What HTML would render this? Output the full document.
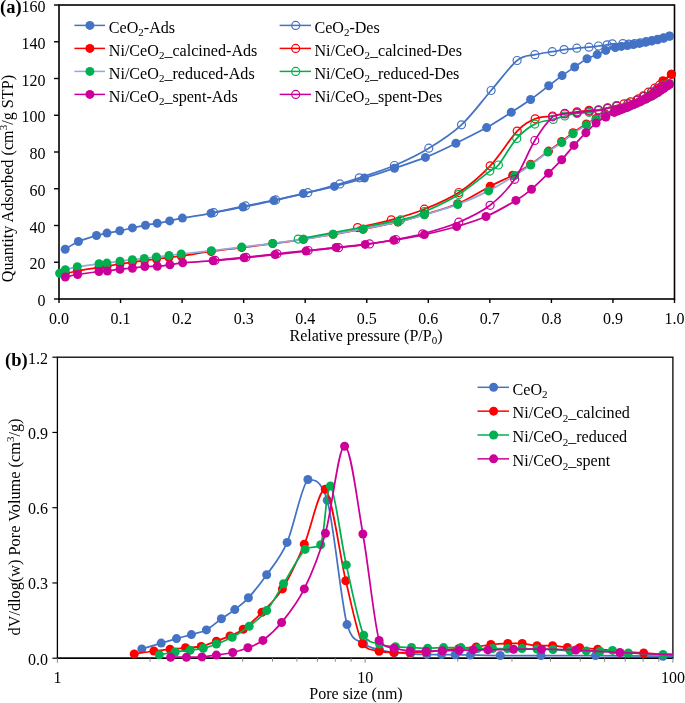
<!DOCTYPE html>
<html><head><meta charset="utf-8"><title>Isotherms and pore size distribution</title>
<style>html,body{margin:0;padding:0;background:#fff;width:685px;height:703px;overflow:hidden;font-family:"Liberation Serif",serif;}svg{display:block;will-change:transform;}</style>
</head><body>
<svg width="685" height="703" viewBox="0 0 685 703">
<defs><clipPath id="ca"><rect x="59.0" y="5.0" width="615.5" height="294.0"/></clipPath>
<clipPath id="cb"><rect x="57.4" y="357.2" width="615.5" height="301.00000000000006"/></clipPath></defs>
<rect width="685" height="703" fill="#fff"/>
<rect x="59.0" y="5.0" width="615.5" height="294.0" fill="none" stroke="#000" stroke-width="1.6"/>
<line x1="54.0" y1="299.00" x2="59.0" y2="299.00" stroke="#000" stroke-width="1.4"/>
<text x="45.5" y="306.00" font-family="Liberation Serif, serif" font-size="16" text-anchor="end">0</text>
<line x1="54.0" y1="262.25" x2="59.0" y2="262.25" stroke="#000" stroke-width="1.4"/>
<text x="45.5" y="269.25" font-family="Liberation Serif, serif" font-size="16" text-anchor="end">20</text>
<line x1="54.0" y1="225.50" x2="59.0" y2="225.50" stroke="#000" stroke-width="1.4"/>
<text x="45.5" y="232.50" font-family="Liberation Serif, serif" font-size="16" text-anchor="end">40</text>
<line x1="54.0" y1="188.75" x2="59.0" y2="188.75" stroke="#000" stroke-width="1.4"/>
<text x="45.5" y="195.75" font-family="Liberation Serif, serif" font-size="16" text-anchor="end">60</text>
<line x1="54.0" y1="152.00" x2="59.0" y2="152.00" stroke="#000" stroke-width="1.4"/>
<text x="45.5" y="159.00" font-family="Liberation Serif, serif" font-size="16" text-anchor="end">80</text>
<line x1="54.0" y1="115.25" x2="59.0" y2="115.25" stroke="#000" stroke-width="1.4"/>
<text x="45.5" y="122.25" font-family="Liberation Serif, serif" font-size="16" text-anchor="end">100</text>
<line x1="54.0" y1="78.50" x2="59.0" y2="78.50" stroke="#000" stroke-width="1.4"/>
<text x="45.5" y="85.50" font-family="Liberation Serif, serif" font-size="16" text-anchor="end">120</text>
<line x1="54.0" y1="41.75" x2="59.0" y2="41.75" stroke="#000" stroke-width="1.4"/>
<text x="45.5" y="48.75" font-family="Liberation Serif, serif" font-size="16" text-anchor="end">140</text>
<line x1="54.0" y1="5.00" x2="59.0" y2="5.00" stroke="#000" stroke-width="1.4"/>
<text x="45.5" y="12.00" font-family="Liberation Serif, serif" font-size="16" text-anchor="end">160</text>
<line x1="59.00" y1="299.0" x2="59.00" y2="303.0" stroke="#000" stroke-width="1.4"/>
<text x="59.00" y="324" font-family="Liberation Serif, serif" font-size="16" text-anchor="middle">0.0</text>
<line x1="120.55" y1="299.0" x2="120.55" y2="303.0" stroke="#000" stroke-width="1.4"/>
<text x="120.55" y="324" font-family="Liberation Serif, serif" font-size="16" text-anchor="middle">0.1</text>
<line x1="182.10" y1="299.0" x2="182.10" y2="303.0" stroke="#000" stroke-width="1.4"/>
<text x="182.10" y="324" font-family="Liberation Serif, serif" font-size="16" text-anchor="middle">0.2</text>
<line x1="243.65" y1="299.0" x2="243.65" y2="303.0" stroke="#000" stroke-width="1.4"/>
<text x="243.65" y="324" font-family="Liberation Serif, serif" font-size="16" text-anchor="middle">0.3</text>
<line x1="305.20" y1="299.0" x2="305.20" y2="303.0" stroke="#000" stroke-width="1.4"/>
<text x="305.20" y="324" font-family="Liberation Serif, serif" font-size="16" text-anchor="middle">0.4</text>
<line x1="366.75" y1="299.0" x2="366.75" y2="303.0" stroke="#000" stroke-width="1.4"/>
<text x="366.75" y="324" font-family="Liberation Serif, serif" font-size="16" text-anchor="middle">0.5</text>
<line x1="428.30" y1="299.0" x2="428.30" y2="303.0" stroke="#000" stroke-width="1.4"/>
<text x="428.30" y="324" font-family="Liberation Serif, serif" font-size="16" text-anchor="middle">0.6</text>
<line x1="489.85" y1="299.0" x2="489.85" y2="303.0" stroke="#000" stroke-width="1.4"/>
<text x="489.85" y="324" font-family="Liberation Serif, serif" font-size="16" text-anchor="middle">0.7</text>
<line x1="551.40" y1="299.0" x2="551.40" y2="303.0" stroke="#000" stroke-width="1.4"/>
<text x="551.40" y="324" font-family="Liberation Serif, serif" font-size="16" text-anchor="middle">0.8</text>
<line x1="612.95" y1="299.0" x2="612.95" y2="303.0" stroke="#000" stroke-width="1.4"/>
<text x="612.95" y="324" font-family="Liberation Serif, serif" font-size="16" text-anchor="middle">0.9</text>
<line x1="674.50" y1="299.0" x2="674.50" y2="303.0" stroke="#000" stroke-width="1.4"/>
<text x="674.50" y="324" font-family="Liberation Serif, serif" font-size="16" text-anchor="middle">1.0</text>
<path d="M65.20,249.30 C67.40,248.00 73.18,243.80 78.40,241.50 C83.62,239.20 91.73,236.90 96.50,235.50 C101.27,234.10 103.12,233.88 107.00,233.10 C110.88,232.32 115.57,231.67 119.80,230.80 C124.03,229.93 128.12,228.82 132.40,227.90 C136.68,226.98 141.37,226.07 145.50,225.30 C149.63,224.53 153.17,224.03 157.20,223.30 C161.23,222.57 165.50,221.77 169.70,220.90 C173.90,220.03 175.52,219.37 182.40,218.10 C189.28,216.83 200.90,215.15 211.00,213.30 C221.10,211.45 232.53,209.12 243.00,207.00 C253.47,204.88 263.75,202.83 273.80,200.60 C283.85,198.37 293.20,195.97 303.30,193.60 C313.40,191.23 324.22,188.98 334.40,186.40 C344.58,183.82 354.38,181.13 364.40,178.10 C374.42,175.07 384.33,171.65 394.50,168.20 C404.67,164.75 415.17,161.55 425.40,157.40 C435.63,153.25 445.70,148.27 455.90,143.30 C466.10,138.33 477.37,132.77 486.60,127.60 C495.83,122.43 503.97,116.98 511.30,112.30 C518.63,107.62 524.37,103.92 530.60,99.50 C536.83,95.08 543.45,89.78 548.70,85.80 C553.95,81.82 557.77,78.73 562.10,75.60 C566.43,72.47 570.55,69.80 574.70,67.00 C578.85,64.20 583.25,60.87 587.00,58.80 C590.75,56.73 594.07,56.00 597.20,54.60 C600.33,53.20 602.78,51.57 605.80,50.40 C608.82,49.23 612.71,48.26 615.30,47.60 C617.89,46.94 619.31,46.78 621.32,46.43 C623.33,46.07 625.34,45.78 627.34,45.46 C629.35,45.14 631.36,44.84 633.37,44.50 C635.37,44.16 637.38,43.80 639.39,43.42 C641.40,43.04 643.40,42.61 645.41,42.22 C647.42,41.84 649.43,41.51 651.43,41.11 C653.44,40.71 655.45,40.30 657.46,39.82 C659.46,39.35 661.47,38.85 663.48,38.24 C665.49,37.64 668.50,36.54 669.50,36.20" fill="none" stroke="#4472C4" stroke-width="1.75" clip-path="url(#ca)"/>
<circle cx="65.20" cy="249.30" r="4.5" fill="#4472C4"/>
<circle cx="78.40" cy="241.50" r="4.5" fill="#4472C4"/>
<circle cx="96.50" cy="235.50" r="4.5" fill="#4472C4"/>
<circle cx="107.00" cy="233.10" r="4.5" fill="#4472C4"/>
<circle cx="119.80" cy="230.80" r="4.5" fill="#4472C4"/>
<circle cx="132.40" cy="227.90" r="4.5" fill="#4472C4"/>
<circle cx="145.50" cy="225.30" r="4.5" fill="#4472C4"/>
<circle cx="157.20" cy="223.30" r="4.5" fill="#4472C4"/>
<circle cx="169.70" cy="220.90" r="4.5" fill="#4472C4"/>
<circle cx="182.40" cy="218.10" r="4.5" fill="#4472C4"/>
<circle cx="211.00" cy="213.30" r="4.5" fill="#4472C4"/>
<circle cx="243.00" cy="207.00" r="4.5" fill="#4472C4"/>
<circle cx="273.80" cy="200.60" r="4.5" fill="#4472C4"/>
<circle cx="303.30" cy="193.60" r="4.5" fill="#4472C4"/>
<circle cx="334.40" cy="186.40" r="4.5" fill="#4472C4"/>
<circle cx="364.40" cy="178.10" r="4.5" fill="#4472C4"/>
<circle cx="394.50" cy="168.20" r="4.5" fill="#4472C4"/>
<circle cx="425.40" cy="157.40" r="4.5" fill="#4472C4"/>
<circle cx="455.90" cy="143.30" r="4.5" fill="#4472C4"/>
<circle cx="486.60" cy="127.60" r="4.5" fill="#4472C4"/>
<circle cx="511.30" cy="112.30" r="4.5" fill="#4472C4"/>
<circle cx="530.60" cy="99.50" r="4.5" fill="#4472C4"/>
<circle cx="548.70" cy="85.80" r="4.5" fill="#4472C4"/>
<circle cx="562.10" cy="75.60" r="4.5" fill="#4472C4"/>
<circle cx="574.70" cy="67.00" r="4.5" fill="#4472C4"/>
<circle cx="587.00" cy="58.80" r="4.5" fill="#4472C4"/>
<circle cx="597.20" cy="54.60" r="4.5" fill="#4472C4"/>
<circle cx="605.80" cy="50.40" r="4.5" fill="#4472C4"/>
<circle cx="615.30" cy="47.60" r="4.5" fill="#4472C4"/>
<circle cx="621.32" cy="46.43" r="4.5" fill="#4472C4"/>
<circle cx="627.34" cy="45.46" r="4.5" fill="#4472C4"/>
<circle cx="633.37" cy="44.50" r="4.5" fill="#4472C4"/>
<circle cx="639.39" cy="43.42" r="4.5" fill="#4472C4"/>
<circle cx="645.41" cy="42.22" r="4.5" fill="#4472C4"/>
<circle cx="651.43" cy="41.11" r="4.5" fill="#4472C4"/>
<circle cx="657.46" cy="39.82" r="4.5" fill="#4472C4"/>
<circle cx="663.48" cy="38.24" r="4.5" fill="#4472C4"/>
<circle cx="669.50" cy="36.20" r="4.5" fill="#4472C4"/>
<path d="M669.50,36.00 C668.53,36.30 665.62,37.23 663.67,37.79 C661.73,38.35 659.79,38.87 657.85,39.34 C655.91,39.81 653.97,40.21 652.02,40.59 C650.08,40.98 648.14,41.32 646.20,41.68 C644.26,42.04 642.32,42.43 640.38,42.76 C638.43,43.09 636.49,43.44 634.55,43.66 C632.61,43.88 630.67,44.06 628.73,44.06 C626.78,44.05 625.64,43.64 622.90,43.60 C620.16,43.60 614.93,43.60 612.30,43.80 C609.67,44.00 609.40,44.43 607.10,44.80 C604.80,45.17 601.52,45.60 598.50,46.00 C595.48,46.40 592.62,46.83 589.00,47.20 C585.38,47.57 580.95,47.80 576.80,48.20 C572.65,48.60 568.18,49.02 564.10,49.60 C560.02,50.18 557.17,50.85 552.30,51.70 C547.43,52.55 540.77,53.23 534.90,54.70 C529.03,56.17 524.40,54.70 517.10,60.50 C509.80,66.47 500.37,79.78 491.10,90.50 C481.83,101.22 471.88,115.18 461.50,124.80 C451.12,134.42 439.98,141.42 428.80,148.20 C417.62,154.98 405.98,160.57 394.40,165.50 C382.82,170.43 368.38,174.73 359.30,177.80 C350.22,180.87 348.48,181.42 339.90,183.90 C331.32,186.38 318.50,190.03 307.80,192.70 C297.10,195.37 286.08,197.70 275.70,199.90 C265.32,202.10 255.83,203.78 245.50,205.90 C235.17,208.02 219.00,211.48 213.70,212.60" fill="none" stroke="#4472C4" stroke-width="1.75" clip-path="url(#ca)"/>
<circle cx="669.50" cy="36.00" r="4.0" fill="none" stroke="#4472C4" stroke-width="1.2"/>
<circle cx="663.67" cy="37.79" r="4.0" fill="none" stroke="#4472C4" stroke-width="1.2"/>
<circle cx="657.85" cy="39.34" r="4.0" fill="none" stroke="#4472C4" stroke-width="1.2"/>
<circle cx="652.02" cy="40.59" r="4.0" fill="none" stroke="#4472C4" stroke-width="1.2"/>
<circle cx="646.20" cy="41.68" r="4.0" fill="none" stroke="#4472C4" stroke-width="1.2"/>
<circle cx="640.38" cy="42.76" r="4.0" fill="none" stroke="#4472C4" stroke-width="1.2"/>
<circle cx="634.55" cy="43.66" r="4.0" fill="none" stroke="#4472C4" stroke-width="1.2"/>
<circle cx="628.73" cy="44.06" r="4.0" fill="none" stroke="#4472C4" stroke-width="1.2"/>
<circle cx="622.90" cy="43.60" r="4.0" fill="none" stroke="#4472C4" stroke-width="1.2"/>
<circle cx="612.30" cy="43.80" r="4.0" fill="none" stroke="#4472C4" stroke-width="1.2"/>
<circle cx="607.10" cy="44.80" r="4.0" fill="none" stroke="#4472C4" stroke-width="1.2"/>
<circle cx="598.50" cy="46.00" r="4.0" fill="none" stroke="#4472C4" stroke-width="1.2"/>
<circle cx="589.00" cy="47.20" r="4.0" fill="none" stroke="#4472C4" stroke-width="1.2"/>
<circle cx="576.80" cy="48.20" r="4.0" fill="none" stroke="#4472C4" stroke-width="1.2"/>
<circle cx="564.10" cy="49.60" r="4.0" fill="none" stroke="#4472C4" stroke-width="1.2"/>
<circle cx="552.30" cy="51.70" r="4.0" fill="none" stroke="#4472C4" stroke-width="1.2"/>
<circle cx="534.90" cy="54.70" r="4.0" fill="none" stroke="#4472C4" stroke-width="1.2"/>
<circle cx="517.10" cy="60.50" r="4.0" fill="none" stroke="#4472C4" stroke-width="1.2"/>
<circle cx="491.10" cy="90.50" r="4.0" fill="none" stroke="#4472C4" stroke-width="1.2"/>
<circle cx="461.50" cy="124.80" r="4.0" fill="none" stroke="#4472C4" stroke-width="1.2"/>
<circle cx="428.80" cy="148.20" r="4.0" fill="none" stroke="#4472C4" stroke-width="1.2"/>
<circle cx="394.40" cy="165.50" r="4.0" fill="none" stroke="#4472C4" stroke-width="1.2"/>
<circle cx="359.30" cy="177.80" r="4.0" fill="none" stroke="#4472C4" stroke-width="1.2"/>
<circle cx="339.90" cy="183.90" r="4.0" fill="none" stroke="#4472C4" stroke-width="1.2"/>
<circle cx="307.80" cy="192.70" r="4.0" fill="none" stroke="#4472C4" stroke-width="1.2"/>
<circle cx="275.70" cy="199.90" r="4.0" fill="none" stroke="#4472C4" stroke-width="1.2"/>
<circle cx="245.50" cy="205.90" r="4.0" fill="none" stroke="#4472C4" stroke-width="1.2"/>
<circle cx="213.70" cy="212.60" r="4.0" fill="none" stroke="#4472C4" stroke-width="1.2"/>
<path d="M65.30,273.50 C67.30,273.08 71.68,272.00 77.30,271.00 C82.92,270.00 94.05,268.30 99.00,267.50 C103.95,266.70 103.50,266.78 107.00,266.20 C110.50,265.62 115.77,264.67 120.00,264.00 C124.23,263.33 128.32,262.78 132.40,262.20 C136.48,261.62 140.48,261.03 144.50,260.50 C148.52,259.97 152.42,259.50 156.50,259.00 C160.58,258.50 164.88,258.00 169.00,257.50 C173.12,257.00 174.17,257.00 181.20,256.00 C188.23,255.00 201.12,252.90 211.20,251.50 C221.28,250.10 231.45,248.92 241.70,247.60 C251.95,246.28 262.42,244.98 272.70,243.60 C282.98,242.22 293.33,240.85 303.40,239.30 C313.47,237.75 323.15,235.98 333.10,234.30 C343.05,232.62 352.30,231.25 363.10,229.20 C373.90,227.15 387.68,224.45 397.90,222.00 C408.12,219.55 414.43,217.53 424.40,214.50 C434.37,211.47 446.73,208.52 457.70,203.80 C468.67,199.08 481.03,190.97 490.20,186.20 C499.37,181.43 505.95,178.87 512.70,175.20 C519.45,171.53 524.73,168.22 530.70,164.20 C536.67,160.18 543.33,154.88 548.50,151.10 C553.67,147.32 557.62,144.57 561.70,141.50 C565.78,138.43 568.90,135.62 573.00,132.70 C577.10,129.78 582.45,126.37 586.30,124.00 C590.15,121.63 592.90,120.13 596.10,118.50 C599.30,116.87 603.88,114.77 605.50,114.20 C607.12,114.20 604.33,115.07 605.80,115.07 C607.27,114.60 611.72,112.42 614.30,111.39 C616.88,110.36 619.07,109.69 621.30,108.89 C623.53,108.10 625.58,107.43 627.70,106.61 C629.82,105.78 631.95,104.80 634.00,103.93 C636.05,103.05 638.00,102.26 640.00,101.36 C642.00,100.45 644.00,99.62 646.00,98.50 C648.00,97.38 650.17,96.07 652.00,94.64 C653.83,93.22 655.18,92.26 657.00,89.95 C658.82,87.64 660.50,83.41 662.90,80.80 C665.30,78.19 669.98,75.38 671.40,74.30" fill="none" stroke="#FF0000" stroke-width="1.75" clip-path="url(#ca)"/>
<circle cx="65.30" cy="273.50" r="4.5" fill="#FF0000"/>
<circle cx="77.30" cy="271.00" r="4.5" fill="#FF0000"/>
<circle cx="99.00" cy="267.50" r="4.5" fill="#FF0000"/>
<circle cx="107.00" cy="266.20" r="4.5" fill="#FF0000"/>
<circle cx="120.00" cy="264.00" r="4.5" fill="#FF0000"/>
<circle cx="132.40" cy="262.20" r="4.5" fill="#FF0000"/>
<circle cx="144.50" cy="260.50" r="4.5" fill="#FF0000"/>
<circle cx="156.50" cy="259.00" r="4.5" fill="#FF0000"/>
<circle cx="169.00" cy="257.50" r="4.5" fill="#FF0000"/>
<circle cx="181.20" cy="256.00" r="4.5" fill="#FF0000"/>
<circle cx="211.20" cy="251.50" r="4.5" fill="#FF0000"/>
<circle cx="241.70" cy="247.60" r="4.5" fill="#FF0000"/>
<circle cx="272.70" cy="243.60" r="4.5" fill="#FF0000"/>
<circle cx="303.40" cy="239.30" r="4.5" fill="#FF0000"/>
<circle cx="333.10" cy="234.30" r="4.5" fill="#FF0000"/>
<circle cx="363.10" cy="229.20" r="4.5" fill="#FF0000"/>
<circle cx="397.90" cy="222.00" r="4.5" fill="#FF0000"/>
<circle cx="424.40" cy="214.50" r="4.5" fill="#FF0000"/>
<circle cx="457.70" cy="203.80" r="4.5" fill="#FF0000"/>
<circle cx="490.20" cy="186.20" r="4.5" fill="#FF0000"/>
<circle cx="512.70" cy="175.20" r="4.5" fill="#FF0000"/>
<circle cx="530.70" cy="164.20" r="4.5" fill="#FF0000"/>
<circle cx="548.50" cy="151.10" r="4.5" fill="#FF0000"/>
<circle cx="561.70" cy="141.50" r="4.5" fill="#FF0000"/>
<circle cx="573.00" cy="132.70" r="4.5" fill="#FF0000"/>
<circle cx="586.30" cy="124.00" r="4.5" fill="#FF0000"/>
<circle cx="596.10" cy="118.50" r="4.5" fill="#FF0000"/>
<circle cx="605.50" cy="114.20" r="4.5" fill="#FF0000"/>
<circle cx="605.80" cy="115.07" r="4.5" fill="#FF0000"/>
<circle cx="614.30" cy="111.39" r="4.5" fill="#FF0000"/>
<circle cx="621.30" cy="108.89" r="4.5" fill="#FF0000"/>
<circle cx="627.70" cy="106.61" r="4.5" fill="#FF0000"/>
<circle cx="634.00" cy="103.93" r="4.5" fill="#FF0000"/>
<circle cx="640.00" cy="101.36" r="4.5" fill="#FF0000"/>
<circle cx="646.00" cy="98.50" r="4.5" fill="#FF0000"/>
<circle cx="652.00" cy="94.64" r="4.5" fill="#FF0000"/>
<circle cx="657.00" cy="89.95" r="4.5" fill="#FF0000"/>
<circle cx="662.90" cy="80.80" r="4.5" fill="#FF0000"/>
<circle cx="671.40" cy="74.30" r="4.5" fill="#FF0000"/>
<path d="M671.40,74.30 C669.42,76.12 662.27,82.90 659.50,85.20 C656.73,87.50 656.65,86.93 654.80,88.10 C652.95,89.27 650.30,90.92 648.40,92.20 C646.50,93.48 645.07,94.68 643.40,95.80 C641.73,96.92 640.55,97.90 638.40,98.90 C636.25,99.90 632.90,100.98 630.50,101.80 C628.10,102.62 626.32,103.18 624.00,103.80 C621.68,104.42 619.33,104.83 616.60,105.50 C613.87,106.17 610.62,107.08 607.60,107.80 C604.58,108.52 601.60,109.38 598.50,109.80 C595.40,110.22 592.58,109.97 589.00,110.30 C585.42,110.63 581.03,111.30 577.00,111.80 C572.97,112.30 568.87,112.60 564.80,113.30 C560.73,114.00 557.53,115.08 552.60,116.00 C547.67,116.92 541.10,116.28 535.20,118.80 C529.30,121.32 524.70,123.27 517.20,131.10 C509.70,138.93 499.93,155.57 490.20,165.80 C480.47,176.03 469.77,185.27 458.80,192.50 C447.83,199.73 435.65,204.65 424.40,209.20 C413.15,213.75 402.43,216.73 391.30,219.80 C380.17,222.87 363.22,226.30 357.60,227.60" fill="none" stroke="#FF0000" stroke-width="1.75" clip-path="url(#ca)"/>
<circle cx="671.40" cy="74.30" r="4.0" fill="none" stroke="#FF0000" stroke-width="1.2"/>
<circle cx="659.50" cy="85.20" r="4.0" fill="none" stroke="#FF0000" stroke-width="1.2"/>
<circle cx="654.80" cy="88.10" r="4.0" fill="none" stroke="#FF0000" stroke-width="1.2"/>
<circle cx="648.40" cy="92.20" r="4.0" fill="none" stroke="#FF0000" stroke-width="1.2"/>
<circle cx="643.40" cy="95.80" r="4.0" fill="none" stroke="#FF0000" stroke-width="1.2"/>
<circle cx="638.40" cy="98.90" r="4.0" fill="none" stroke="#FF0000" stroke-width="1.2"/>
<circle cx="630.50" cy="101.80" r="4.0" fill="none" stroke="#FF0000" stroke-width="1.2"/>
<circle cx="624.00" cy="103.80" r="4.0" fill="none" stroke="#FF0000" stroke-width="1.2"/>
<circle cx="616.60" cy="105.50" r="4.0" fill="none" stroke="#FF0000" stroke-width="1.2"/>
<circle cx="607.60" cy="107.80" r="4.0" fill="none" stroke="#FF0000" stroke-width="1.2"/>
<circle cx="598.50" cy="109.80" r="4.0" fill="none" stroke="#FF0000" stroke-width="1.2"/>
<circle cx="589.00" cy="110.30" r="4.0" fill="none" stroke="#FF0000" stroke-width="1.2"/>
<circle cx="577.00" cy="111.80" r="4.0" fill="none" stroke="#FF0000" stroke-width="1.2"/>
<circle cx="564.80" cy="113.30" r="4.0" fill="none" stroke="#FF0000" stroke-width="1.2"/>
<circle cx="552.60" cy="116.00" r="4.0" fill="none" stroke="#FF0000" stroke-width="1.2"/>
<circle cx="535.20" cy="118.80" r="4.0" fill="none" stroke="#FF0000" stroke-width="1.2"/>
<circle cx="517.20" cy="131.10" r="4.0" fill="none" stroke="#FF0000" stroke-width="1.2"/>
<circle cx="490.20" cy="165.80" r="4.0" fill="none" stroke="#FF0000" stroke-width="1.2"/>
<circle cx="458.80" cy="192.50" r="4.0" fill="none" stroke="#FF0000" stroke-width="1.2"/>
<circle cx="424.40" cy="209.20" r="4.0" fill="none" stroke="#FF0000" stroke-width="1.2"/>
<circle cx="391.30" cy="219.80" r="4.0" fill="none" stroke="#FF0000" stroke-width="1.2"/>
<circle cx="357.60" cy="227.60" r="4.0" fill="none" stroke="#FF0000" stroke-width="1.2"/>
<path d="M59.60,273.20 C60.55,272.62 62.35,270.77 65.30,269.70 C68.25,268.63 71.68,267.78 77.30,266.80 C82.92,265.82 94.07,264.42 99.00,263.80 C103.93,263.18 103.40,263.53 106.90,263.10 C110.40,262.67 115.75,261.77 120.00,261.20 C124.25,260.63 128.35,260.15 132.40,259.70 C136.45,259.25 140.30,258.97 144.30,258.50 C148.30,258.03 152.28,257.40 156.40,256.90 C160.52,256.40 164.87,255.98 169.00,255.50 C173.13,255.02 174.13,254.80 181.20,254.00 C188.27,253.20 201.32,251.85 211.40,250.70 C221.48,249.55 231.48,248.32 241.70,247.10 C251.92,245.88 262.42,244.72 272.70,243.40 C282.98,242.08 293.33,240.73 303.40,239.20 C313.47,237.67 323.15,235.90 333.10,234.20 C343.05,232.50 352.30,231.05 363.10,229.00 C373.90,226.95 387.68,224.28 397.90,221.90 C408.12,219.52 414.43,217.60 424.40,214.70 C434.37,211.80 447.00,208.47 457.70,204.50 C468.40,200.53 479.10,195.72 488.60,190.90 C498.10,186.08 507.68,179.92 514.70,175.60 C521.72,171.28 525.17,168.92 530.70,165.00 C536.23,161.08 542.73,155.85 547.90,152.10 C553.07,148.35 557.52,145.57 561.70,142.50 C565.88,139.43 568.90,136.63 573.00,133.70 C577.10,130.77 582.45,127.32 586.30,124.90 C590.15,122.48 592.90,120.85 596.10,119.20 C599.30,117.55 603.88,115.60 605.50,115.00 C607.12,115.00 604.33,115.57 605.80,115.57 C607.27,115.06 611.72,112.92 614.30,111.89 C616.88,110.86 619.07,110.19 621.30,109.39 C623.53,108.60 625.58,107.93 627.70,107.11 C629.82,106.28 631.95,105.30 634.00,104.43 C636.05,103.55 638.00,102.73 640.00,101.86 C642.00,100.98 644.00,100.12 646.00,99.17 C648.00,98.22 650.00,97.27 652.00,96.17 C654.00,95.07 656.00,93.92 658.00,92.57 C660.00,91.22 662.17,89.60 664.00,88.08 C665.83,86.57 668.17,84.26 669.00,83.50" fill="none" stroke="#8FAADC" stroke-width="1.75" clip-path="url(#ca)"/>
<circle cx="59.60" cy="273.20" r="4.5" fill="#00B050"/>
<circle cx="65.30" cy="269.70" r="4.5" fill="#00B050"/>
<circle cx="77.30" cy="266.80" r="4.5" fill="#00B050"/>
<circle cx="99.00" cy="263.80" r="4.5" fill="#00B050"/>
<circle cx="106.90" cy="263.10" r="4.5" fill="#00B050"/>
<circle cx="120.00" cy="261.20" r="4.5" fill="#00B050"/>
<circle cx="132.40" cy="259.70" r="4.5" fill="#00B050"/>
<circle cx="144.30" cy="258.50" r="4.5" fill="#00B050"/>
<circle cx="156.40" cy="256.90" r="4.5" fill="#00B050"/>
<circle cx="169.00" cy="255.50" r="4.5" fill="#00B050"/>
<circle cx="181.20" cy="254.00" r="4.5" fill="#00B050"/>
<circle cx="211.40" cy="250.70" r="4.5" fill="#00B050"/>
<circle cx="241.70" cy="247.10" r="4.5" fill="#00B050"/>
<circle cx="272.70" cy="243.40" r="4.5" fill="#00B050"/>
<circle cx="303.40" cy="239.20" r="4.5" fill="#00B050"/>
<circle cx="333.10" cy="234.20" r="4.5" fill="#00B050"/>
<circle cx="363.10" cy="229.00" r="4.5" fill="#00B050"/>
<circle cx="397.90" cy="221.90" r="4.5" fill="#00B050"/>
<circle cx="424.40" cy="214.70" r="4.5" fill="#00B050"/>
<circle cx="457.70" cy="204.50" r="4.5" fill="#00B050"/>
<circle cx="488.60" cy="190.90" r="4.5" fill="#00B050"/>
<circle cx="514.70" cy="175.60" r="4.5" fill="#00B050"/>
<circle cx="530.70" cy="165.00" r="4.5" fill="#00B050"/>
<circle cx="547.90" cy="152.10" r="4.5" fill="#00B050"/>
<circle cx="561.70" cy="142.50" r="4.5" fill="#00B050"/>
<circle cx="573.00" cy="133.70" r="4.5" fill="#00B050"/>
<circle cx="586.30" cy="124.90" r="4.5" fill="#00B050"/>
<circle cx="596.10" cy="119.20" r="4.5" fill="#00B050"/>
<circle cx="605.50" cy="115.00" r="4.5" fill="#00B050"/>
<circle cx="605.80" cy="115.57" r="4.5" fill="#00B050"/>
<circle cx="614.30" cy="111.89" r="4.5" fill="#00B050"/>
<circle cx="621.30" cy="109.39" r="4.5" fill="#00B050"/>
<circle cx="627.70" cy="107.11" r="4.5" fill="#00B050"/>
<circle cx="634.00" cy="104.43" r="4.5" fill="#00B050"/>
<circle cx="640.00" cy="101.86" r="4.5" fill="#00B050"/>
<circle cx="646.00" cy="99.17" r="4.5" fill="#00B050"/>
<circle cx="652.00" cy="96.17" r="4.5" fill="#00B050"/>
<circle cx="658.00" cy="92.57" r="4.5" fill="#00B050"/>
<circle cx="664.00" cy="88.08" r="4.5" fill="#00B050"/>
<circle cx="669.00" cy="83.50" r="4.5" fill="#00B050"/>
<path d="M669.00,83.50 C667.90,83.78 664.28,84.42 662.40,85.20 C660.52,85.98 659.50,87.10 657.70,88.20 C655.90,89.30 653.88,90.48 651.60,91.80 C649.32,93.12 646.43,94.77 644.00,96.10 C641.57,97.43 639.67,98.58 637.00,99.80 C634.33,101.02 631.35,102.40 628.00,103.40 C624.65,104.40 620.28,105.03 616.90,105.80 C613.52,106.57 610.77,107.28 607.70,108.00 C604.63,108.72 601.62,109.38 598.50,110.10 C595.38,110.82 592.58,111.73 589.00,112.30 C585.42,112.87 581.03,112.88 577.00,113.50 C572.97,114.12 568.77,115.02 564.80,116.00 C560.83,116.98 558.20,118.05 553.20,119.40 C548.20,120.75 540.87,120.93 534.80,124.10 C528.73,127.27 522.87,131.58 516.80,138.40 C510.73,145.22 502.90,159.55 498.40,165.00 C493.90,170.45 496.40,166.20 489.80,171.10 C483.20,176.00 469.70,187.63 458.80,194.40 C447.90,201.17 434.12,207.45 424.40,211.70 C414.68,215.95 421.53,215.33 400.50,219.90 C379.47,224.47 315.25,235.90 298.20,239.10" fill="none" stroke="#00B050" stroke-width="1.75" clip-path="url(#ca)"/>
<circle cx="669.00" cy="83.50" r="4.0" fill="none" stroke="#00B050" stroke-width="1.2"/>
<circle cx="662.40" cy="85.20" r="4.0" fill="none" stroke="#00B050" stroke-width="1.2"/>
<circle cx="657.70" cy="88.20" r="4.0" fill="none" stroke="#00B050" stroke-width="1.2"/>
<circle cx="651.60" cy="91.80" r="4.0" fill="none" stroke="#00B050" stroke-width="1.2"/>
<circle cx="644.00" cy="96.10" r="4.0" fill="none" stroke="#00B050" stroke-width="1.2"/>
<circle cx="637.00" cy="99.80" r="4.0" fill="none" stroke="#00B050" stroke-width="1.2"/>
<circle cx="628.00" cy="103.40" r="4.0" fill="none" stroke="#00B050" stroke-width="1.2"/>
<circle cx="616.90" cy="105.80" r="4.0" fill="none" stroke="#00B050" stroke-width="1.2"/>
<circle cx="607.70" cy="108.00" r="4.0" fill="none" stroke="#00B050" stroke-width="1.2"/>
<circle cx="598.50" cy="110.10" r="4.0" fill="none" stroke="#00B050" stroke-width="1.2"/>
<circle cx="589.00" cy="112.30" r="4.0" fill="none" stroke="#00B050" stroke-width="1.2"/>
<circle cx="577.00" cy="113.50" r="4.0" fill="none" stroke="#00B050" stroke-width="1.2"/>
<circle cx="564.80" cy="116.00" r="4.0" fill="none" stroke="#00B050" stroke-width="1.2"/>
<circle cx="553.20" cy="119.40" r="4.0" fill="none" stroke="#00B050" stroke-width="1.2"/>
<circle cx="534.80" cy="124.10" r="4.0" fill="none" stroke="#00B050" stroke-width="1.2"/>
<circle cx="516.80" cy="138.40" r="4.0" fill="none" stroke="#00B050" stroke-width="1.2"/>
<circle cx="498.40" cy="165.00" r="4.0" fill="none" stroke="#00B050" stroke-width="1.2"/>
<circle cx="489.80" cy="171.10" r="4.0" fill="none" stroke="#00B050" stroke-width="1.2"/>
<circle cx="458.80" cy="194.40" r="4.0" fill="none" stroke="#00B050" stroke-width="1.2"/>
<circle cx="424.40" cy="211.70" r="4.0" fill="none" stroke="#00B050" stroke-width="1.2"/>
<circle cx="400.50" cy="219.90" r="4.0" fill="none" stroke="#00B050" stroke-width="1.2"/>
<circle cx="298.20" cy="239.10" r="4.0" fill="none" stroke="#00B050" stroke-width="1.2"/>
<path d="M65.30,277.10 C67.35,276.67 71.98,275.43 77.60,274.50 C83.22,273.57 94.03,272.08 99.00,271.50 C103.97,271.00 103.90,271.38 107.40,271.00 C110.90,270.62 115.83,269.67 120.00,269.20 C124.17,268.73 128.27,268.65 132.40,268.20 C136.53,267.75 140.65,266.83 144.80,266.50 C148.95,266.20 153.12,266.48 157.30,266.20 C161.48,265.92 165.67,265.37 169.90,264.80 C174.13,264.23 175.50,263.48 182.70,262.80 C189.90,262.12 202.87,261.53 213.10,260.70 C223.33,259.87 233.78,258.82 244.10,257.80 C254.42,256.78 264.68,255.72 275.00,254.60 C285.32,253.48 295.82,252.30 306.00,251.10 C316.18,249.90 326.23,248.52 336.10,247.40 C345.97,246.28 355.58,245.60 365.20,244.40 C374.82,243.20 383.93,241.83 393.80,240.20 C403.67,238.57 413.92,236.88 424.40,234.60 C434.88,232.32 446.43,229.52 456.70,226.50 C466.97,223.48 476.13,220.85 486.00,216.50 C495.87,212.15 508.32,204.93 515.90,200.40 C523.48,195.87 526.07,193.83 531.50,189.30 C536.93,184.77 543.47,178.13 548.50,173.20 C553.53,168.27 557.45,164.33 561.70,159.70 C565.95,155.07 569.97,149.90 574.00,145.40 C578.03,140.90 582.22,136.42 585.90,132.70 C589.58,128.98 592.80,125.75 596.10,123.10 C599.40,120.45 604.08,117.81 605.70,116.80 C607.32,116.80 604.37,117.03 605.80,117.03 C607.23,116.29 612.35,113.37 614.30,112.38 C616.25,111.39 616.45,111.52 617.50,111.10 C618.55,110.68 619.57,110.27 620.60,109.86 C621.63,109.45 622.67,109.06 623.70,108.66 C624.73,108.26 625.77,107.88 626.80,107.46 C627.83,107.05 628.87,106.62 629.90,106.19 C630.93,105.75 631.97,105.31 633.00,104.86 C634.03,104.41 635.07,103.96 636.10,103.50 C637.13,103.03 638.17,102.55 639.20,102.08 C640.23,101.61 641.27,101.15 642.30,100.65 C643.33,100.15 644.37,99.62 645.40,99.10 C646.43,98.58 647.47,98.08 648.50,97.55 C649.53,97.02 650.57,96.47 651.60,95.93 C652.63,95.38 653.67,94.87 654.70,94.29 C655.73,93.70 656.77,93.07 657.80,92.42 C658.83,91.77 659.87,91.07 660.90,90.38 C661.93,89.69 662.97,89.00 664.00,88.28 C665.03,87.55 666.18,86.70 667.10,86.04 C668.02,85.37 669.10,84.59 669.50,84.30" fill="none" stroke="#CC0099" stroke-width="1.75" clip-path="url(#ca)"/>
<circle cx="65.30" cy="277.10" r="4.5" fill="#CC0099"/>
<circle cx="77.60" cy="274.50" r="4.5" fill="#CC0099"/>
<circle cx="99.00" cy="271.50" r="4.5" fill="#CC0099"/>
<circle cx="107.40" cy="271.00" r="4.5" fill="#CC0099"/>
<circle cx="120.00" cy="269.20" r="4.5" fill="#CC0099"/>
<circle cx="132.40" cy="268.20" r="4.5" fill="#CC0099"/>
<circle cx="144.80" cy="266.50" r="4.5" fill="#CC0099"/>
<circle cx="157.30" cy="266.20" r="4.5" fill="#CC0099"/>
<circle cx="169.90" cy="264.80" r="4.5" fill="#CC0099"/>
<circle cx="182.70" cy="262.80" r="4.5" fill="#CC0099"/>
<circle cx="213.10" cy="260.70" r="4.5" fill="#CC0099"/>
<circle cx="244.10" cy="257.80" r="4.5" fill="#CC0099"/>
<circle cx="275.00" cy="254.60" r="4.5" fill="#CC0099"/>
<circle cx="306.00" cy="251.10" r="4.5" fill="#CC0099"/>
<circle cx="336.10" cy="247.40" r="4.5" fill="#CC0099"/>
<circle cx="365.20" cy="244.40" r="4.5" fill="#CC0099"/>
<circle cx="393.80" cy="240.20" r="4.5" fill="#CC0099"/>
<circle cx="424.40" cy="234.60" r="4.5" fill="#CC0099"/>
<circle cx="456.70" cy="226.50" r="4.5" fill="#CC0099"/>
<circle cx="486.00" cy="216.50" r="4.5" fill="#CC0099"/>
<circle cx="515.90" cy="200.40" r="4.5" fill="#CC0099"/>
<circle cx="531.50" cy="189.30" r="4.5" fill="#CC0099"/>
<circle cx="548.50" cy="173.20" r="4.5" fill="#CC0099"/>
<circle cx="561.70" cy="159.70" r="4.5" fill="#CC0099"/>
<circle cx="574.00" cy="145.40" r="4.5" fill="#CC0099"/>
<circle cx="585.90" cy="132.70" r="4.5" fill="#CC0099"/>
<circle cx="596.10" cy="123.10" r="4.5" fill="#CC0099"/>
<circle cx="605.70" cy="116.80" r="4.5" fill="#CC0099"/>
<circle cx="605.80" cy="117.03" r="4.5" fill="#CC0099"/>
<circle cx="614.30" cy="112.38" r="4.5" fill="#CC0099"/>
<circle cx="617.50" cy="111.10" r="4.5" fill="#CC0099"/>
<circle cx="620.60" cy="109.86" r="4.5" fill="#CC0099"/>
<circle cx="623.70" cy="108.66" r="4.5" fill="#CC0099"/>
<circle cx="626.80" cy="107.46" r="4.5" fill="#CC0099"/>
<circle cx="629.90" cy="106.19" r="4.5" fill="#CC0099"/>
<circle cx="633.00" cy="104.86" r="4.5" fill="#CC0099"/>
<circle cx="636.10" cy="103.50" r="4.5" fill="#CC0099"/>
<circle cx="639.20" cy="102.08" r="4.5" fill="#CC0099"/>
<circle cx="642.30" cy="100.65" r="4.5" fill="#CC0099"/>
<circle cx="645.40" cy="99.10" r="4.5" fill="#CC0099"/>
<circle cx="648.50" cy="97.55" r="4.5" fill="#CC0099"/>
<circle cx="651.60" cy="95.93" r="4.5" fill="#CC0099"/>
<circle cx="654.70" cy="94.29" r="4.5" fill="#CC0099"/>
<circle cx="657.80" cy="92.42" r="4.5" fill="#CC0099"/>
<circle cx="660.90" cy="90.38" r="4.5" fill="#CC0099"/>
<circle cx="664.00" cy="88.28" r="4.5" fill="#CC0099"/>
<circle cx="667.10" cy="86.04" r="4.5" fill="#CC0099"/>
<circle cx="669.50" cy="84.30" r="4.5" fill="#CC0099"/>
<path d="M669.50,84.30 C668.32,84.55 664.37,85.08 662.40,85.80 C660.43,86.52 659.50,87.53 657.70,88.60 C655.90,89.67 653.88,90.88 651.60,92.20 C649.32,93.52 646.43,95.17 644.00,96.50 C641.57,97.83 639.67,98.98 637.00,100.20 C634.33,101.42 631.35,102.80 628.00,103.80 C624.65,104.80 620.28,105.43 616.90,106.20 C613.52,106.97 610.77,107.68 607.70,108.40 C604.63,109.12 601.57,110.03 598.50,110.50 C595.43,110.97 592.87,110.83 589.30,111.20 C585.73,111.57 581.18,112.25 577.10,112.70 C573.02,113.15 568.88,113.22 564.80,113.90 C560.72,114.58 557.60,113.90 552.60,116.80 C547.60,121.23 541.12,130.08 534.80,140.50 C528.48,150.92 522.15,168.50 514.70,179.30 C507.25,190.10 499.42,198.15 490.10,205.30 C480.78,212.45 470.03,217.45 458.80,222.20 C447.57,226.95 433.20,230.92 422.70,233.80 C412.20,236.68 404.65,237.82 395.80,239.50 C386.95,241.18 379.13,242.53 369.60,243.90 C360.07,245.27 348.83,246.60 338.60,247.70 C328.37,248.80 318.47,249.48 308.20,250.50 C297.93,251.52 287.37,252.67 277.00,253.80 C266.63,254.93 256.33,256.22 246.00,257.30 C235.67,258.38 220.17,259.80 215.00,260.30" fill="none" stroke="#CC0099" stroke-width="1.75" clip-path="url(#ca)"/>
<circle cx="669.50" cy="84.30" r="4.0" fill="none" stroke="#CC0099" stroke-width="1.2"/>
<circle cx="662.40" cy="85.80" r="4.0" fill="none" stroke="#CC0099" stroke-width="1.2"/>
<circle cx="657.70" cy="88.60" r="4.0" fill="none" stroke="#CC0099" stroke-width="1.2"/>
<circle cx="651.60" cy="92.20" r="4.0" fill="none" stroke="#CC0099" stroke-width="1.2"/>
<circle cx="644.00" cy="96.50" r="4.0" fill="none" stroke="#CC0099" stroke-width="1.2"/>
<circle cx="637.00" cy="100.20" r="4.0" fill="none" stroke="#CC0099" stroke-width="1.2"/>
<circle cx="628.00" cy="103.80" r="4.0" fill="none" stroke="#CC0099" stroke-width="1.2"/>
<circle cx="616.90" cy="106.20" r="4.0" fill="none" stroke="#CC0099" stroke-width="1.2"/>
<circle cx="607.70" cy="108.40" r="4.0" fill="none" stroke="#CC0099" stroke-width="1.2"/>
<circle cx="598.50" cy="110.50" r="4.0" fill="none" stroke="#CC0099" stroke-width="1.2"/>
<circle cx="589.30" cy="111.20" r="4.0" fill="none" stroke="#CC0099" stroke-width="1.2"/>
<circle cx="577.10" cy="112.70" r="4.0" fill="none" stroke="#CC0099" stroke-width="1.2"/>
<circle cx="564.80" cy="113.90" r="4.0" fill="none" stroke="#CC0099" stroke-width="1.2"/>
<circle cx="552.60" cy="116.80" r="4.0" fill="none" stroke="#CC0099" stroke-width="1.2"/>
<circle cx="534.80" cy="140.50" r="4.0" fill="none" stroke="#CC0099" stroke-width="1.2"/>
<circle cx="514.70" cy="179.30" r="4.0" fill="none" stroke="#CC0099" stroke-width="1.2"/>
<circle cx="490.10" cy="205.30" r="4.0" fill="none" stroke="#CC0099" stroke-width="1.2"/>
<circle cx="458.80" cy="222.20" r="4.0" fill="none" stroke="#CC0099" stroke-width="1.2"/>
<circle cx="422.70" cy="233.80" r="4.0" fill="none" stroke="#CC0099" stroke-width="1.2"/>
<circle cx="395.80" cy="239.50" r="4.0" fill="none" stroke="#CC0099" stroke-width="1.2"/>
<circle cx="369.60" cy="243.90" r="4.0" fill="none" stroke="#CC0099" stroke-width="1.2"/>
<circle cx="338.60" cy="247.70" r="4.0" fill="none" stroke="#CC0099" stroke-width="1.2"/>
<circle cx="308.20" cy="250.50" r="4.0" fill="none" stroke="#CC0099" stroke-width="1.2"/>
<circle cx="277.00" cy="253.80" r="4.0" fill="none" stroke="#CC0099" stroke-width="1.2"/>
<circle cx="246.00" cy="257.30" r="4.0" fill="none" stroke="#CC0099" stroke-width="1.2"/>
<circle cx="215.00" cy="260.30" r="4.0" fill="none" stroke="#CC0099" stroke-width="1.2"/>
<text x="366" y="340.5" font-family="Liberation Serif, serif" font-size="16" text-anchor="middle">Relative pressure (P/P<tspan font-size="11" dy="3">0</tspan><tspan dy="-3">)</tspan></text>
<text transform="translate(12.5,178.6) rotate(-90)" font-family="Liberation Serif, serif" font-size="16.2" text-anchor="middle">Quantity Adsorbed (cm<tspan font-size="11" dy="-6">3</tspan><tspan dy="6">/g STP)</tspan></text>
<text x="0" y="12.8" font-family="Liberation Serif, serif" font-size="18.5" font-weight="bold">(a)</text>
<line x1="74.4" y1="25.40" x2="105" y2="25.40" stroke="#4472C4" stroke-width="1.5"/>
<circle cx="89.9" cy="25.40" r="4.5" fill="#4472C4"/>
<text x="108.8" y="32.70" font-family="Liberation Serif, serif" font-size="16.1">CeO<tspan font-size="11" dy="3.5">2</tspan><tspan dy="-3.5">-Ads</tspan></text>
<line x1="74.4" y1="48.40" x2="105" y2="48.40" stroke="#FF0000" stroke-width="1.5"/>
<circle cx="89.9" cy="48.40" r="4.5" fill="#FF0000"/>
<text x="108.8" y="55.70" font-family="Liberation Serif, serif" font-size="16.1">Ni/CeO<tspan font-size="11" dy="3.5">2</tspan><tspan dy="-3.5">_calcined-Ads</tspan></text>
<line x1="74.4" y1="71.40" x2="105" y2="71.40" stroke="#8FAADC" stroke-width="1.5"/>
<circle cx="89.9" cy="71.40" r="4.5" fill="#00B050"/>
<text x="108.8" y="78.70" font-family="Liberation Serif, serif" font-size="16.1">Ni/CeO<tspan font-size="11" dy="3.5">2</tspan><tspan dy="-3.5">_reduced-Ads</tspan></text>
<line x1="74.4" y1="94.40" x2="105" y2="94.40" stroke="#CC0099" stroke-width="1.5"/>
<circle cx="89.9" cy="94.40" r="4.5" fill="#CC0099"/>
<text x="108.8" y="101.70" font-family="Liberation Serif, serif" font-size="16.1">Ni/CeO<tspan font-size="11" dy="3.5">2</tspan><tspan dy="-3.5">_spent-Ads</tspan></text>
<line x1="279.6" y1="25.40" x2="311" y2="25.40" stroke="#4472C4" stroke-width="1.5"/>
<circle cx="295.7" cy="25.40" r="4.0" fill="none" stroke="#4472C4" stroke-width="1.2"/>
<text x="314.4" y="32.70" font-family="Liberation Serif, serif" font-size="16.1">CeO<tspan font-size="11" dy="3.5">2</tspan><tspan dy="-3.5">-Des</tspan></text>
<line x1="279.6" y1="48.40" x2="311" y2="48.40" stroke="#FF0000" stroke-width="1.5"/>
<circle cx="295.7" cy="48.40" r="4.0" fill="none" stroke="#FF0000" stroke-width="1.2"/>
<text x="314.4" y="55.70" font-family="Liberation Serif, serif" font-size="16.1">Ni/CeO<tspan font-size="11" dy="3.5">2</tspan><tspan dy="-3.5">_calcined-Des</tspan></text>
<line x1="279.6" y1="71.40" x2="311" y2="71.40" stroke="#00B050" stroke-width="1.5"/>
<circle cx="295.7" cy="71.40" r="4.0" fill="none" stroke="#00B050" stroke-width="1.2"/>
<text x="314.4" y="78.70" font-family="Liberation Serif, serif" font-size="16.1">Ni/CeO<tspan font-size="11" dy="3.5">2</tspan><tspan dy="-3.5">_reduced-Des</tspan></text>
<line x1="279.6" y1="94.40" x2="311" y2="94.40" stroke="#CC0099" stroke-width="1.5"/>
<circle cx="295.7" cy="94.40" r="4.0" fill="none" stroke="#CC0099" stroke-width="1.2"/>
<text x="314.4" y="101.70" font-family="Liberation Serif, serif" font-size="16.1">Ni/CeO<tspan font-size="11" dy="3.5">2</tspan><tspan dy="-3.5">_spent-Des</tspan></text>
<rect x="57.4" y="357.2" width="615.5" height="301.00000000000006" fill="none" stroke="#000" stroke-width="1.3"/>
<line x1="57.4" y1="658.2" x2="672.9" y2="658.2" stroke="#000" stroke-width="1.5"/>
<line x1="52.4" y1="658.20" x2="57.4" y2="658.20" stroke="#000" stroke-width="1.2"/>
<text x="48" y="664.70" font-family="Liberation Serif, serif" font-size="16" text-anchor="end">0.0</text>
<line x1="52.4" y1="582.95" x2="57.4" y2="582.95" stroke="#000" stroke-width="1.2"/>
<text x="48" y="589.45" font-family="Liberation Serif, serif" font-size="16" text-anchor="end">0.3</text>
<line x1="52.4" y1="507.70" x2="57.4" y2="507.70" stroke="#000" stroke-width="1.2"/>
<text x="48" y="514.20" font-family="Liberation Serif, serif" font-size="16" text-anchor="end">0.6</text>
<line x1="52.4" y1="432.45" x2="57.4" y2="432.45" stroke="#000" stroke-width="1.2"/>
<text x="48" y="438.95" font-family="Liberation Serif, serif" font-size="16" text-anchor="end">0.9</text>
<line x1="52.4" y1="357.20" x2="57.4" y2="357.20" stroke="#000" stroke-width="1.2"/>
<text x="48" y="363.70" font-family="Liberation Serif, serif" font-size="16" text-anchor="end">1.2</text>
<line x1="57.40" y1="658.2" x2="57.40" y2="662.7" stroke="#888" stroke-width="1"/>
<line x1="150.04" y1="658.2" x2="150.04" y2="661.7" stroke="#888" stroke-width="1"/>
<line x1="204.23" y1="658.2" x2="204.23" y2="661.7" stroke="#888" stroke-width="1"/>
<line x1="242.68" y1="658.2" x2="242.68" y2="661.7" stroke="#888" stroke-width="1"/>
<line x1="272.51" y1="658.2" x2="272.51" y2="661.7" stroke="#888" stroke-width="1"/>
<line x1="296.88" y1="658.2" x2="296.88" y2="661.7" stroke="#888" stroke-width="1"/>
<line x1="317.48" y1="658.2" x2="317.48" y2="661.7" stroke="#888" stroke-width="1"/>
<line x1="335.33" y1="658.2" x2="335.33" y2="661.7" stroke="#888" stroke-width="1"/>
<line x1="351.07" y1="658.2" x2="351.07" y2="661.7" stroke="#888" stroke-width="1"/>
<line x1="365.15" y1="658.2" x2="365.15" y2="662.7" stroke="#888" stroke-width="1"/>
<line x1="457.79" y1="658.2" x2="457.79" y2="661.7" stroke="#888" stroke-width="1"/>
<line x1="511.98" y1="658.2" x2="511.98" y2="661.7" stroke="#888" stroke-width="1"/>
<line x1="550.43" y1="658.2" x2="550.43" y2="661.7" stroke="#888" stroke-width="1"/>
<line x1="580.26" y1="658.2" x2="580.26" y2="661.7" stroke="#888" stroke-width="1"/>
<line x1="604.63" y1="658.2" x2="604.63" y2="661.7" stroke="#888" stroke-width="1"/>
<line x1="625.23" y1="658.2" x2="625.23" y2="661.7" stroke="#888" stroke-width="1"/>
<line x1="643.08" y1="658.2" x2="643.08" y2="661.7" stroke="#888" stroke-width="1"/>
<line x1="658.82" y1="658.2" x2="658.82" y2="661.7" stroke="#888" stroke-width="1"/>
<line x1="672.90" y1="658.2" x2="672.90" y2="662.7" stroke="#888" stroke-width="1"/>
<text x="57.40" y="683" font-family="Liberation Serif, serif" font-size="16" text-anchor="middle">1</text>
<text x="365.15" y="683" font-family="Liberation Serif, serif" font-size="16" text-anchor="middle">10</text>
<text x="672.90" y="683" font-family="Liberation Serif, serif" font-size="16" text-anchor="middle">100</text>
<path d="M141.80,648.90 C145.03,647.93 155.42,644.82 161.20,643.10 C166.98,641.38 171.47,640.02 176.50,638.60 C181.53,637.18 186.42,636.05 191.40,634.60 C196.38,633.15 201.40,632.53 206.40,629.90 C211.40,627.27 216.67,622.18 221.40,618.80 C226.13,615.42 230.30,613.10 234.80,609.60 C239.30,606.10 243.08,603.60 248.40,597.80 C253.72,592.00 260.25,584.03 266.70,574.80 C273.15,565.57 280.23,558.28 287.10,542.40 C293.97,526.52 301.20,486.52 307.90,479.50 C314.60,479.50 320.78,479.50 327.30,500.30 C333.82,524.48 340.97,600.73 347.00,624.60 C353.03,643.50 358.08,639.30 363.50,643.50 C368.92,647.70 374.33,648.30 379.50,649.80 C384.67,651.30 389.33,651.83 394.50,652.50 C399.67,653.17 405.10,653.47 410.50,653.80 C415.90,654.13 421.72,654.37 426.90,654.50 C432.08,654.60 436.88,654.55 441.60,654.60 C446.32,654.65 450.40,654.73 455.20,654.80 C460.00,654.87 462.88,654.88 470.40,655.00 C477.92,655.12 488.53,655.42 500.30,655.50 C512.07,655.50 525.13,655.50 541.00,655.50 C556.87,655.52 575.17,655.50 595.50,655.60 C615.83,655.72 647.25,656.05 663.00,656.20 C678.75,656.35 685.50,656.45 690.00,656.50" fill="none" stroke="#4472C4" stroke-width="1.75" clip-path="url(#cb)"/>
<circle cx="141.80" cy="648.90" r="4.5" fill="#4472C4"/>
<circle cx="161.20" cy="643.10" r="4.5" fill="#4472C4"/>
<circle cx="176.50" cy="638.60" r="4.5" fill="#4472C4"/>
<circle cx="191.40" cy="634.60" r="4.5" fill="#4472C4"/>
<circle cx="206.40" cy="629.90" r="4.5" fill="#4472C4"/>
<circle cx="221.40" cy="618.80" r="4.5" fill="#4472C4"/>
<circle cx="234.80" cy="609.60" r="4.5" fill="#4472C4"/>
<circle cx="248.40" cy="597.80" r="4.5" fill="#4472C4"/>
<circle cx="266.70" cy="574.80" r="4.5" fill="#4472C4"/>
<circle cx="287.10" cy="542.40" r="4.5" fill="#4472C4"/>
<circle cx="307.90" cy="479.50" r="4.5" fill="#4472C4"/>
<circle cx="327.30" cy="500.30" r="4.5" fill="#4472C4"/>
<circle cx="347.00" cy="624.60" r="4.5" fill="#4472C4"/>
<circle cx="363.50" cy="643.50" r="4.5" fill="#4472C4"/>
<circle cx="379.50" cy="649.80" r="4.5" fill="#4472C4"/>
<circle cx="394.50" cy="652.50" r="4.5" fill="#4472C4"/>
<circle cx="410.50" cy="653.80" r="4.5" fill="#4472C4"/>
<circle cx="426.90" cy="654.50" r="4.5" fill="#4472C4"/>
<circle cx="441.60" cy="654.60" r="4.5" fill="#4472C4"/>
<circle cx="455.20" cy="654.80" r="4.5" fill="#4472C4"/>
<circle cx="470.40" cy="655.00" r="4.5" fill="#4472C4"/>
<circle cx="500.30" cy="655.50" r="4.5" fill="#4472C4"/>
<circle cx="541.00" cy="655.50" r="4.5" fill="#4472C4"/>
<circle cx="595.50" cy="655.60" r="4.5" fill="#4472C4"/>
<circle cx="663.00" cy="656.20" r="4.5" fill="#4472C4"/>
<path d="M134.20,654.00 C137.48,653.50 147.93,651.80 153.90,651.00 C159.87,650.20 164.73,649.73 170.00,649.20 C175.27,648.67 180.30,648.27 185.50,647.80 C190.70,647.33 196.05,647.50 201.20,646.40 C206.35,645.30 211.60,642.95 216.40,641.20 C221.20,639.45 225.53,637.88 230.00,635.90 C234.47,633.92 237.87,633.23 243.20,629.30 C248.53,625.37 255.47,619.03 262.00,612.30 C268.53,605.57 275.35,600.23 282.40,588.90 C289.45,577.57 297.15,560.92 304.30,544.30 C311.45,527.68 318.38,489.20 325.30,489.20 C332.22,495.28 339.62,555.03 345.80,580.80 C351.98,606.57 356.85,632.07 362.40,643.80 C367.95,651.20 373.88,649.73 379.10,651.20 C384.32,652.60 388.53,652.37 393.70,652.60 C398.87,652.60 404.72,652.60 410.10,652.60 C415.48,652.50 420.52,652.43 426.00,652.00 C431.48,651.57 437.50,650.58 443.00,650.00 C448.50,649.42 453.47,649.02 459.00,648.50 C464.53,647.98 470.88,647.57 476.20,646.90 C481.52,646.23 485.63,645.08 490.90,644.50 C496.17,643.92 502.58,643.58 507.80,643.40 C513.02,643.40 517.33,643.40 522.20,643.40 C527.07,643.78 531.93,645.32 537.00,645.70 C542.07,645.70 547.53,645.70 552.60,645.70 C557.67,645.98 562.88,647.05 567.40,647.40 C571.92,647.75 574.65,647.50 579.70,647.80 C584.75,648.10 587.03,648.33 597.70,649.20 C608.37,650.07 628.32,652.03 643.70,653.00 C659.08,653.97 682.28,654.67 690.00,655.00" fill="none" stroke="#FF0000" stroke-width="1.75" clip-path="url(#cb)"/>
<circle cx="134.20" cy="654.00" r="4.5" fill="#FF0000"/>
<circle cx="153.90" cy="651.00" r="4.5" fill="#FF0000"/>
<circle cx="170.00" cy="649.20" r="4.5" fill="#FF0000"/>
<circle cx="185.50" cy="647.80" r="4.5" fill="#FF0000"/>
<circle cx="201.20" cy="646.40" r="4.5" fill="#FF0000"/>
<circle cx="216.40" cy="641.20" r="4.5" fill="#FF0000"/>
<circle cx="230.00" cy="635.90" r="4.5" fill="#FF0000"/>
<circle cx="243.20" cy="629.30" r="4.5" fill="#FF0000"/>
<circle cx="262.00" cy="612.30" r="4.5" fill="#FF0000"/>
<circle cx="282.40" cy="588.90" r="4.5" fill="#FF0000"/>
<circle cx="304.30" cy="544.30" r="4.5" fill="#FF0000"/>
<circle cx="325.30" cy="489.20" r="4.5" fill="#FF0000"/>
<circle cx="345.80" cy="580.80" r="4.5" fill="#FF0000"/>
<circle cx="362.40" cy="643.80" r="4.5" fill="#FF0000"/>
<circle cx="379.10" cy="651.20" r="4.5" fill="#FF0000"/>
<circle cx="393.70" cy="652.60" r="4.5" fill="#FF0000"/>
<circle cx="410.10" cy="652.60" r="4.5" fill="#FF0000"/>
<circle cx="426.00" cy="652.00" r="4.5" fill="#FF0000"/>
<circle cx="443.00" cy="650.00" r="4.5" fill="#FF0000"/>
<circle cx="459.00" cy="648.50" r="4.5" fill="#FF0000"/>
<circle cx="476.20" cy="646.90" r="4.5" fill="#FF0000"/>
<circle cx="490.90" cy="644.50" r="4.5" fill="#FF0000"/>
<circle cx="507.80" cy="643.40" r="4.5" fill="#FF0000"/>
<circle cx="522.20" cy="643.40" r="4.5" fill="#FF0000"/>
<circle cx="537.00" cy="645.70" r="4.5" fill="#FF0000"/>
<circle cx="552.60" cy="645.70" r="4.5" fill="#FF0000"/>
<circle cx="567.40" cy="647.40" r="4.5" fill="#FF0000"/>
<circle cx="579.70" cy="647.80" r="4.5" fill="#FF0000"/>
<circle cx="597.70" cy="649.20" r="4.5" fill="#FF0000"/>
<circle cx="643.70" cy="653.00" r="4.5" fill="#FF0000"/>
<path d="M159.30,654.70 C161.95,654.25 170.07,652.75 175.20,652.00 C180.33,651.25 185.42,650.82 190.10,650.20 C194.78,649.58 198.92,649.33 203.30,648.30 C207.68,647.27 211.58,645.85 216.40,644.00 C221.22,642.15 226.73,640.17 232.20,637.20 C237.67,634.23 243.45,630.65 249.20,626.20 C254.95,621.75 260.98,617.57 266.70,610.50 C272.42,603.43 277.10,593.98 283.50,583.80 C289.90,573.62 298.90,555.92 305.10,549.40 C311.30,544.70 316.48,549.40 320.70,544.70 C324.92,534.12 326.13,485.90 330.40,485.90 C334.67,489.27 340.75,540.02 346.30,564.90 C351.85,589.78 358.17,622.02 363.70,635.20 C369.23,644.00 374.20,642.07 379.50,644.00 C384.80,645.93 390.17,646.22 395.50,646.80 C400.83,647.38 406.15,647.27 411.50,647.50 C416.85,647.73 422.27,648.18 427.60,648.20 C432.93,648.20 437.93,647.70 443.50,647.60 C449.07,647.60 455.35,647.60 461.00,647.60 C466.65,647.75 472.13,648.35 477.40,648.50 C482.67,648.50 487.58,648.50 492.60,648.50 C497.62,648.50 502.60,648.50 507.50,648.50 C512.40,648.50 517.08,648.50 522.00,648.50 C526.92,648.58 531.83,648.83 537.00,649.00 C542.17,649.17 547.47,649.18 553.00,649.50 C558.53,649.82 564.65,650.67 570.20,650.90 C575.75,650.90 581.33,650.90 586.30,650.90 C591.27,650.97 595.63,651.30 600.00,651.30 C604.37,651.22 607.78,650.40 612.50,650.40 C617.22,650.68 619.88,652.33 628.30,653.00 C636.72,653.67 652.72,654.07 663.00,654.40 C673.28,654.73 685.50,654.90 690.00,655.00" fill="none" stroke="#00B050" stroke-width="1.75" clip-path="url(#cb)"/>
<circle cx="159.30" cy="654.70" r="4.5" fill="#00B050"/>
<circle cx="175.20" cy="652.00" r="4.5" fill="#00B050"/>
<circle cx="190.10" cy="650.20" r="4.5" fill="#00B050"/>
<circle cx="203.30" cy="648.30" r="4.5" fill="#00B050"/>
<circle cx="216.40" cy="644.00" r="4.5" fill="#00B050"/>
<circle cx="232.20" cy="637.20" r="4.5" fill="#00B050"/>
<circle cx="249.20" cy="626.20" r="4.5" fill="#00B050"/>
<circle cx="266.70" cy="610.50" r="4.5" fill="#00B050"/>
<circle cx="283.50" cy="583.80" r="4.5" fill="#00B050"/>
<circle cx="305.10" cy="549.40" r="4.5" fill="#00B050"/>
<circle cx="320.70" cy="544.70" r="4.5" fill="#00B050"/>
<circle cx="330.40" cy="485.90" r="4.5" fill="#00B050"/>
<circle cx="346.30" cy="564.90" r="4.5" fill="#00B050"/>
<circle cx="363.70" cy="635.20" r="4.5" fill="#00B050"/>
<circle cx="379.50" cy="644.00" r="4.5" fill="#00B050"/>
<circle cx="395.50" cy="646.80" r="4.5" fill="#00B050"/>
<circle cx="411.50" cy="647.50" r="4.5" fill="#00B050"/>
<circle cx="427.60" cy="648.20" r="4.5" fill="#00B050"/>
<circle cx="443.50" cy="647.60" r="4.5" fill="#00B050"/>
<circle cx="461.00" cy="647.60" r="4.5" fill="#00B050"/>
<circle cx="477.40" cy="648.50" r="4.5" fill="#00B050"/>
<circle cx="492.60" cy="648.50" r="4.5" fill="#00B050"/>
<circle cx="507.50" cy="648.50" r="4.5" fill="#00B050"/>
<circle cx="522.00" cy="648.50" r="4.5" fill="#00B050"/>
<circle cx="537.00" cy="649.00" r="4.5" fill="#00B050"/>
<circle cx="553.00" cy="649.50" r="4.5" fill="#00B050"/>
<circle cx="570.20" cy="650.90" r="4.5" fill="#00B050"/>
<circle cx="586.30" cy="650.90" r="4.5" fill="#00B050"/>
<circle cx="600.00" cy="651.30" r="4.5" fill="#00B050"/>
<circle cx="612.50" cy="650.40" r="4.5" fill="#00B050"/>
<circle cx="628.30" cy="653.00" r="4.5" fill="#00B050"/>
<circle cx="663.00" cy="654.40" r="4.5" fill="#00B050"/>
<path d="M170.60,657.20 C173.23,657.20 181.18,657.20 186.40,657.20 C191.62,657.15 196.90,657.20 201.90,656.90 C206.90,656.55 211.27,655.83 216.40,655.10 C221.53,654.37 227.45,653.73 232.70,652.50 C237.95,651.27 242.87,649.72 247.90,647.70 C252.93,645.68 257.28,644.60 262.90,640.40 C268.52,636.20 274.70,631.08 281.60,622.50 C288.50,613.92 297.00,603.77 304.30,588.90 C311.60,574.03 318.68,557.08 325.40,533.30 C332.12,509.52 338.35,446.20 344.60,446.20 C350.85,446.32 357.15,501.63 362.90,534.00 C368.65,566.37 373.92,621.37 379.10,640.40 C384.28,648.20 388.83,646.43 394.00,648.20 C399.17,649.97 404.77,650.50 410.10,651.00 C415.43,651.20 420.63,651.20 426.00,651.20 C431.37,651.17 436.77,650.93 442.30,650.80 C447.83,650.67 454.05,650.55 459.20,650.40 C464.35,650.25 468.42,649.98 473.20,649.90 C477.98,649.90 481.17,649.90 487.90,649.90 C494.63,649.78 504.65,649.32 513.60,649.20 C522.55,649.20 531.23,649.20 541.60,649.20 C551.97,649.33 562.75,649.45 575.80,650.00 C588.85,650.55 600.87,651.57 619.90,652.50 C638.93,653.43 678.32,655.08 690.00,655.60" fill="none" stroke="#CC0099" stroke-width="1.75" clip-path="url(#cb)"/>
<circle cx="170.60" cy="657.20" r="4.5" fill="#CC0099"/>
<circle cx="186.40" cy="657.20" r="4.5" fill="#CC0099"/>
<circle cx="201.90" cy="656.90" r="4.5" fill="#CC0099"/>
<circle cx="216.40" cy="655.10" r="4.5" fill="#CC0099"/>
<circle cx="232.70" cy="652.50" r="4.5" fill="#CC0099"/>
<circle cx="247.90" cy="647.70" r="4.5" fill="#CC0099"/>
<circle cx="262.90" cy="640.40" r="4.5" fill="#CC0099"/>
<circle cx="281.60" cy="622.50" r="4.5" fill="#CC0099"/>
<circle cx="304.30" cy="588.90" r="4.5" fill="#CC0099"/>
<circle cx="325.40" cy="533.30" r="4.5" fill="#CC0099"/>
<circle cx="344.60" cy="446.20" r="4.5" fill="#CC0099"/>
<circle cx="362.90" cy="534.00" r="4.5" fill="#CC0099"/>
<circle cx="379.10" cy="640.40" r="4.5" fill="#CC0099"/>
<circle cx="394.00" cy="648.20" r="4.5" fill="#CC0099"/>
<circle cx="410.10" cy="651.00" r="4.5" fill="#CC0099"/>
<circle cx="426.00" cy="651.20" r="4.5" fill="#CC0099"/>
<circle cx="442.30" cy="650.80" r="4.5" fill="#CC0099"/>
<circle cx="459.20" cy="650.40" r="4.5" fill="#CC0099"/>
<circle cx="473.20" cy="649.90" r="4.5" fill="#CC0099"/>
<circle cx="487.90" cy="649.90" r="4.5" fill="#CC0099"/>
<circle cx="513.60" cy="649.20" r="4.5" fill="#CC0099"/>
<circle cx="541.60" cy="649.20" r="4.5" fill="#CC0099"/>
<circle cx="575.80" cy="650.00" r="4.5" fill="#CC0099"/>
<circle cx="619.90" cy="652.50" r="4.5" fill="#CC0099"/>
<text x="356" y="698.5" font-family="Liberation Serif, serif" font-size="16" text-anchor="middle">Pore size (nm)</text>
<text transform="translate(20.3,527) rotate(-90)" font-family="Liberation Serif, serif" font-size="16.3" text-anchor="middle">dV/dlog(w) Pore Volume (cm<tspan font-size="11" dy="-6">3</tspan><tspan dy="6">/g)</tspan></text>
<text x="5" y="365.5" font-family="Liberation Serif, serif" font-size="18.5" font-weight="bold">(b)</text>
<line x1="477.5" y1="387.30" x2="509" y2="387.30" stroke="#4472C4" stroke-width="1.5"/>
<circle cx="493.6" cy="387.30" r="4.5" fill="#4472C4"/>
<text x="512.6" y="394.60" font-family="Liberation Serif, serif" font-size="16.1">CeO<tspan font-size="11" dy="3.5">2</tspan><tspan dy="-3.5"></tspan></text>
<line x1="477.5" y1="411.15" x2="509" y2="411.15" stroke="#FF0000" stroke-width="1.5"/>
<circle cx="493.6" cy="411.15" r="4.5" fill="#FF0000"/>
<text x="512.6" y="418.45" font-family="Liberation Serif, serif" font-size="16.1">Ni/CeO<tspan font-size="11" dy="3.5">2</tspan><tspan dy="-3.5">_calcined</tspan></text>
<line x1="477.5" y1="435.00" x2="509" y2="435.00" stroke="#00B050" stroke-width="1.5"/>
<circle cx="493.6" cy="435.00" r="4.5" fill="#00B050"/>
<text x="512.6" y="442.30" font-family="Liberation Serif, serif" font-size="16.1">Ni/CeO<tspan font-size="11" dy="3.5">2</tspan><tspan dy="-3.5">_reduced</tspan></text>
<line x1="477.5" y1="458.85" x2="509" y2="458.85" stroke="#CC0099" stroke-width="1.5"/>
<circle cx="493.6" cy="458.85" r="4.5" fill="#CC0099"/>
<text x="512.6" y="466.15" font-family="Liberation Serif, serif" font-size="16.1">Ni/CeO<tspan font-size="11" dy="3.5">2</tspan><tspan dy="-3.5">_spent</tspan></text>
</svg>
</body></html>
